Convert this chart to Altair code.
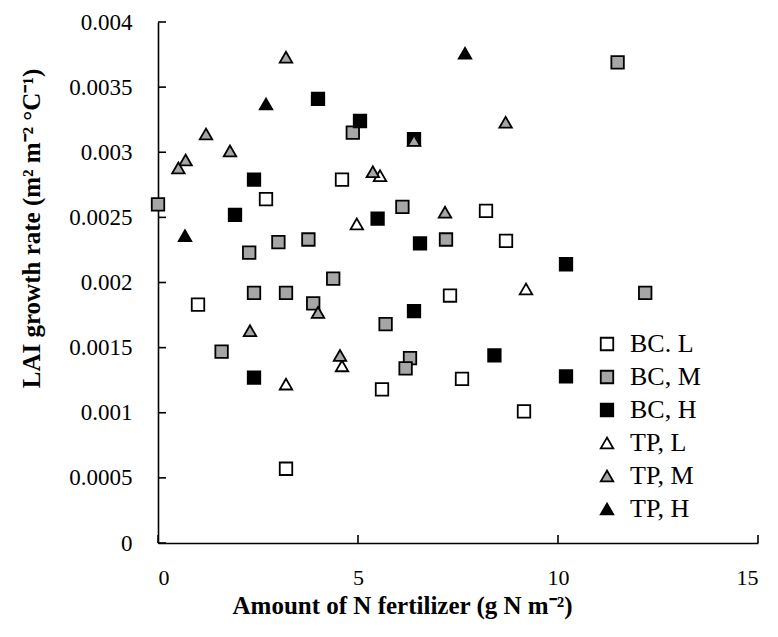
import altair as alt
import pandas as pd

# Series labels, in drawing order (later series sit on top)
series_names = ["BC. L", "BC, M", "BC, H", "TP, L", "TP, M", "TP, H"]

# BC, low
bc_l_x = [4.6, 2.7, 1.0, 7.3, 5.6, 7.6, 3.2, 8.2, 8.7, 9.15]
bc_l_y = [0.00279, 0.00264, 0.00183, 0.00190, 0.00118, 0.00126, 0.00057, 0.00255, 0.00232, 0.00101]

# BC, medium
bc_m_x = [0.0, 4.87, 6.11, 2.28, 3.01, 3.76, 7.2, 11.49, 2.4, 3.2, 4.38, 3.88, 1.59, 5.69, 6.3, 6.19, 12.18]
bc_m_y = [0.00260, 0.00315, 0.00258, 0.00223, 0.00231, 0.00233, 0.00233, 0.00369, 0.00192, 0.00192,
          0.00203, 0.00184, 0.00147, 0.00168, 0.00142, 0.00134, 0.00192]

# BC, high
bc_h_x = [4.0, 5.05, 6.4, 2.4, 1.925, 5.49, 6.55, 10.2, 2.4, 6.4, 8.41, 10.2]
bc_h_y = [0.00341, 0.00324, 0.00310, 0.00279, 0.00252, 0.00249, 0.00230, 0.00214, 0.00127, 0.00178,
          0.00144, 0.00128]

# TP, low
tp_l_x = [5.55, 4.97, 3.2, 4.6, 9.2]
tp_l_y = [0.00282, 0.00245, 0.00122, 0.00136, 0.00195]

# TP, medium
tp_m_x = [3.2, 6.4, 1.2, 1.8, 0.69, 0.51, 5.37, 7.175, 8.69, 4.0, 2.3, 4.55]
tp_m_y = [0.00373, 0.00309, 0.00314, 0.00301, 0.00294, 0.00288, 0.00285, 0.00254, 0.00323, 0.00177,
          0.00163, 0.00144]

# TP, high
tp_h_x = [7.675, 2.7, 0.675]
tp_h_y = [0.00376, 0.00337, 0.00236]

x_ticks = [0, 5, 10, 15]
y_ticks = [0, 0.0005, 0.001, 0.0015, 0.002, 0.0025, 0.003, 0.0035, 0.004]

groups = [
    (bc_l_x, bc_l_y), (bc_m_x, bc_m_y), (bc_h_x, bc_h_y),
    (tp_l_x, tp_l_y), (tp_m_x, tp_m_y), (tp_h_x, tp_h_y),
]
rows = []
for name, (xs, ys) in zip(series_names, groups):
    for xv, yv in zip(xs, ys):
        rows.append({"series": name, "n": xv, "rate": yv, "idx": len(rows)})
df = pd.DataFrame(rows)

FONT = "Liberation Serif"
W, H = 600, 521

x_scale = alt.Scale(domain=[0, 15], nice=False, zero=True)
y_scale = alt.Scale(domain=[0, 0.004], nice=False, zero=True)

x_axis = alt.Axis(values=x_ticks, ticks=False, tickSize=0, grid=False,
                  domainColor="black", domainWidth=1.6,
                  labelFont=FONT, labelFontSize=22, labelColor="black",
                  labelPadding=24,
                  title="Amount of N fertilizer (g N m⁻²)",
                  titleFont=FONT, titleFontSize=25, titleFontWeight="bold",
                  titleColor="black", titleX=244, titleY=70,
                  titleBaseline="alphabetic", titleAlign="center")
y_axis = alt.Axis(values=y_ticks, format="~g", ticks=False, tickSize=0, grid=False,
                  domainColor="black", domainWidth=1.6,
                  labelFont=FONT, labelFontSize=23, labelColor="black",
                  labelPadding=26,
                  title="LAI growth rate (m² m⁻²  °C⁻¹)",
                  titleFont=FONT, titleFontSize=25, titleFontWeight="bold",
                  titleColor="black", titleX=-119, titleY=206,
                  titleBaseline="alphabetic", titleAlign="center", titleAngle=270)

points = alt.Chart(df).mark_point(
    filled=True, strokeWidth=1.8, opacity=1
).encode(
    x=alt.X("n:Q", scale=x_scale, axis=x_axis),
    y=alt.Y("rate:Q", scale=y_scale, axis=y_axis),
    shape=alt.Shape("series:N", title=None, scale=alt.Scale(
        domain=series_names,
        range=["square", "square", "square", "triangle-up", "triangle-up", "triangle-up"])),
    fill=alt.Fill("series:N", title=None, scale=alt.Scale(
        domain=series_names,
        range=["white", "#a6a6a6", "black", "white", "#a6a6a6", "black"])),
    stroke=alt.Stroke("series:N", title=None, scale=alt.Scale(
        domain=series_names,
        range=["black", "black", "black", "black", "black", "black"])),
    size=alt.Size("series:N", title=None, scale=alt.Scale(
        domain=series_names, range=[156, 156, 156, 780, 780, 780])),
    order=alt.Order("idx:Q"),
)

ytick_df = pd.DataFrame({"v": y_ticks})
xtick_df = pd.DataFrame({"v": x_ticks})

y_tick_marks = alt.Chart(ytick_df).mark_rule(color="black", strokeWidth=1.6).encode(
    y=alt.Y("v:Q", scale=y_scale, axis=y_axis),
    x=alt.value(0), x2=alt.value(8),
)
x_tick_marks = alt.Chart(xtick_df).mark_rule(color="black", strokeWidth=1.6).encode(
    x=alt.X("v:Q", scale=x_scale, axis=x_axis),
    y=alt.value(H), y2=alt.value(H - 8),
)

chart = alt.layer(y_tick_marks, x_tick_marks, points).properties(
    width=W, height=H,
    autosize=alt.AutoSizeParams(type="none"),
    padding={"left": 158, "top": 22, "right": 20, "bottom": 94},
    background="white",
).configure_view(stroke=None).configure_legend(
    orient="none", legendX=436, legendY=309,
    labelFont=FONT, labelFontSize=26, labelColor="black", labelOffset=10,
    symbolStrokeWidth=1.8, rowPadding=7,
)

chart.save("out.html", embed_options={"renderer": "svg", "actions": False})
